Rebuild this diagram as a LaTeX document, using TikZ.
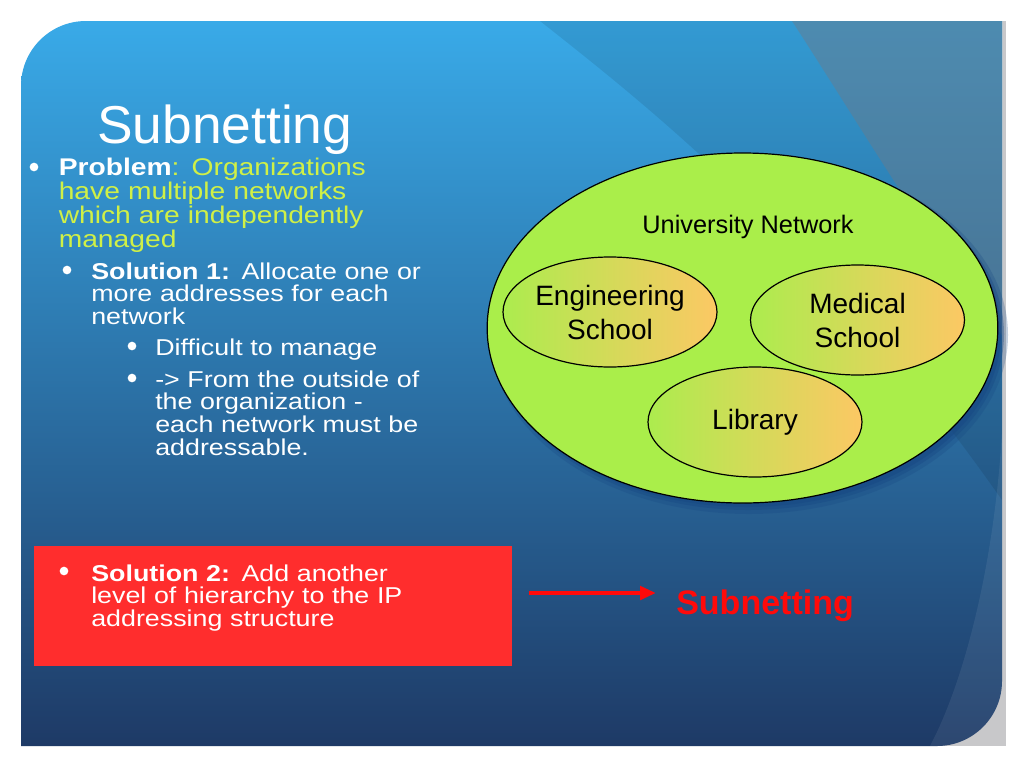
\documentclass[tikz,border=0pt]{standalone}
\usepackage{fontspec}
\setmainfont{Liberation Sans}
\newfontfamily\bodyfont[FakeStretch=1.17]{Liberation Sans}
\usetikzlibrary{arrows.meta,shapes.geometric}
\definecolor{skyT}{RGB}{57,170,232}
\definecolor{skyM}{RGB}{38,118,182}
\definecolor{skyB}{RGB}{30,58,102}
\definecolor{lime}{RGB}{170,238,74}
\definecolor{yg}{RGB}{208,240,70}
\definecolor{boxred}{RGB}{255,45,45}
\definecolor{orng}{RGB}{252,200,100}
\definecolor{grn}{RGB}{172,236,78}
\definecolor{shadowblue}{RGB}{22,70,130}
\definecolor{stripgray}{RGB}{200,200,202}
\definecolor{swoosh}{RGB}{110,122,135}
\definecolor{arrred}{RGB}{255,10,10}
\begin{document}
\begin{tikzpicture}[x=0.75pt,y=-0.75pt,
  bul/.style={circle, fill=white, inner sep=0pt, minimum size=6.5pt},
  txt/.style={anchor=base west, inner sep=0pt, text width=400pt, align=left, text=white},
  blob/.style={ellipse, draw=black, line width=0.9pt, left color=grn, right color=orng,
    inner sep=0pt, minimum width=160.5pt, minimum height=82.5pt, align=center,
    font=\fontsize{21}{25.5}\selectfont}]
\useasboundingbox (0,0) rectangle (1024,768);
\fill[white] (0,0) rectangle (1024,768);
% gray strip behind the panel
\fill[stripgray] (930,21) rectangle (1006,746);
% panel
\path[top color=skyT, middle color=skyM, bottom color=skyB]
  (21,746) -- (21,86) .. controls (21,50.1) and (50.1,21) .. (86,21) -- (1002,21)
  -- (1002,681) .. controls (1002,716.9) and (972.9,746) .. (937,746) -- cycle;
\begin{scope}
\clip (21,746) -- (21,86) .. controls (21,50.1) and (50.1,21) .. (86,21) -- (1002,21)
  -- (1002,681) .. controls (1002,716.9) and (972.9,746) .. (937,746) -- cycle;
\fill[black, opacity=0.09] (540,21) .. controls (640,100) and (820,240) .. (1002,500) -- (1002,21) -- cycle;
\fill[swoosh, opacity=0.45] (792,21) .. controls (850,110) and (940,260) .. (1002,335) -- (1002,21) -- cycle;
\fill[white, opacity=0.07] (1002,430) .. controls (995,560) and (965,680) .. (930,746) -- (1002,746) -- cycle;
\end{scope}
% shadow of the big ellipse
\fill[shadowblue, opacity=0.25] (749,335) ellipse [x radius=259, y radius=179];
\fill[shadowblue, opacity=0.35] (748,334) ellipse [x radius=256, y radius=176];
\fill[shadowblue, opacity=0.4] (747,333) ellipse [x radius=254, y radius=174];
% big ellipse
\node[ellipse, draw=black, line width=0.9pt, fill=lime, inner sep=0pt,
  minimum width=383pt, minimum height=262.5pt] (univ) at (742.5,328) {};
\node[font=\fontsize{19}{22}\selectfont, inner sep=0pt] (unl) at (748,227) {University Network};
\node[blob] (eng) at (610,312) {Engineering\\School};
\node[blob] (med) at (857.5,320) {Medical\\School};
\node[blob] (lib) at (755,422) {Library};
% title
\node[anchor=base west, inner sep=0pt, text=white, font=\fontsize{40}{48}\selectfont] (title) at (97,143) {Subnetting};
% bullets and text
\node[bul] (b1) at (34,167) {};
\node[txt, font=\bodyfont\fontsize{18.1}{18}\selectfont] (prob) at (58.5,175)
  {\textbf{Problem}\color{yg}: Organizations\\have multiple networks\\which are independently\\managed};
\node[bul] (b2) at (67,270) {};
\node[txt, font=\bodyfont\fontsize{17.2}{16.9}\selectfont] (sol1) at (91,279)
  {\textbf{Solution 1:} Allocate one or\\more addresses for each\\network};
\node[bul] (b3) at (132,346) {};
\node[txt, font=\bodyfont\fontsize{17.2}{17}\selectfont] (diff) at (155,355) {Difficult to manage};
\node[bul] (b4) at (132,378) {};
\node[txt, font=\bodyfont\fontsize{17.2}{17}\selectfont] (outs) at (155,387)
  {-> From the outside of\\the organization -\\each network must be\\addressable.};
% red box
\node[anchor=north west, fill=boxred, inner sep=0pt, minimum width=358.5pt, minimum height=90pt] (redbox) at (34,546) {};
\node[bul] (b5) at (64,571) {};
\node[txt, font=\bodyfont\fontsize{17.2}{16.9}\selectfont] (sol2) at (91,581)
  {\textbf{Solution 2:} Add another\\level of hierarchy to the IP\\addressing structure};
% arrow and result
\coordinate (aS) at (529,593);
\coordinate (aE) at (656,593);
\draw[arrred, line width=3pt, -{Triangle[length=12pt,width=10pt]}] (aS) -- (aE);
\node[anchor=base west, inner sep=0pt, text=arrred, font=\bfseries\fontsize{25.5}{30}\selectfont] (res) at (676,614) {Subnetting};
\end{tikzpicture}
\end{document}
